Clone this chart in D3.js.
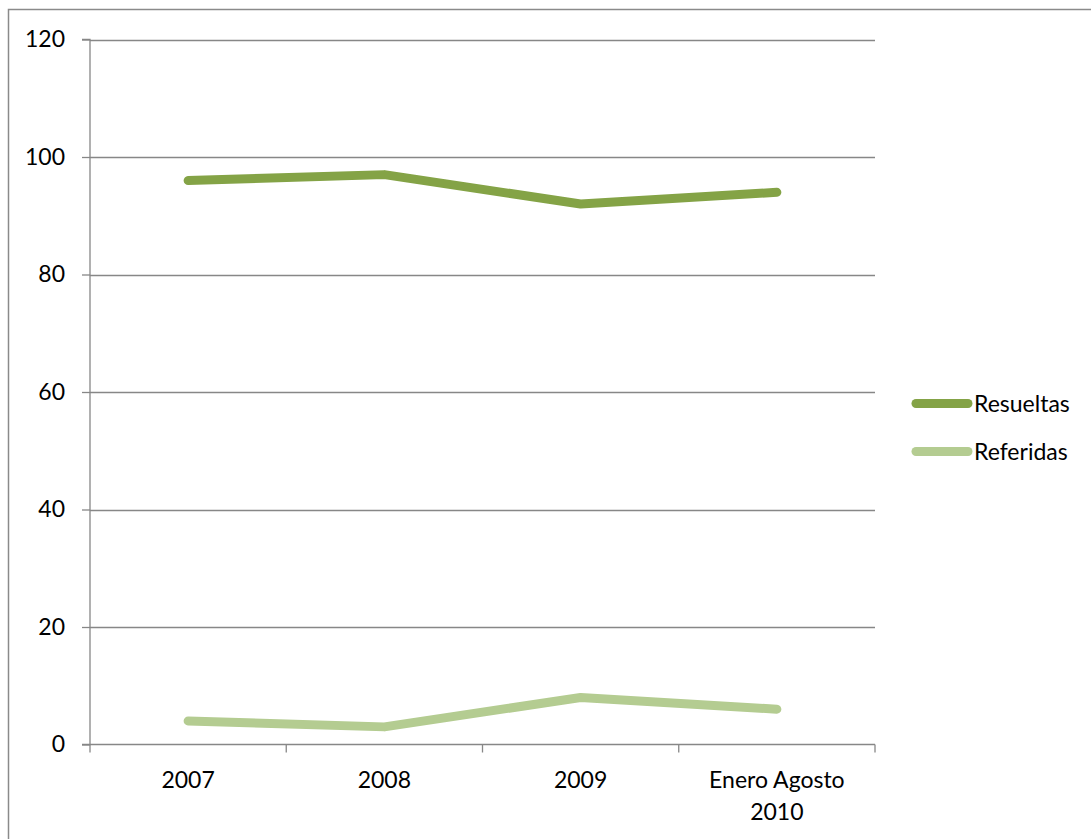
<!DOCTYPE html>
<html><head><meta charset="utf-8">
<script src="https://cdn.jsdelivr.net/npm/d3@7"></script>
<style>body{margin:0;background:#fff;} svg{display:block;}</style>
</head><body>
<svg id="c" width="1091" height="839"></svg>
<script>
const categories = [["2007"], ["2008"], ["2009"], ["Enero Agosto", "2010"]];
const seriesNames = ["Resueltas", "Referidas"];
const resueltas = [96, 97, 92, 94];
const referidas = [4, 3, 8, 6];
const yTicks = [0, 20, 40, 60, 80, 100, 120];
const colors = ["#84A346", "#B4CC91"];

const svg = d3.select("#c");
const font = "Lato, 'Open Sans', sans-serif";
const fs = 23;
const gridColor = "#878787";

// outer frame
svg.append("rect").attr("x", 8.5).attr("y", 9.5).attr("width", 1100).attr("height", 900)
  .attr("fill", "#fff").attr("stroke", "#8a8a8a").attr("stroke-width", 1.5);

const L = 90, R = 875, T = 39.5, B = 744.5;
const x = d3.scaleBand().domain(d3.range(categories.length)).range([L, R]);
const y = d3.scaleLinear().domain([0, 120]).range([B, T]);

// gridlines
svg.append("g").selectAll("line").data(yTicks.filter(d => d > 0)).join("line")
  .attr("x1", L).attr("x2", R).attr("y1", d => Math.round(y(d)) + 0.5).attr("y2", d => Math.round(y(d)) + 0.5)
  .attr("stroke", gridColor).attr("stroke-width", 1.3);

// y axis
const yAxis = d3.axisLeft(y).tickValues(yTicks).tickSize(8).tickPadding(17).tickFormat(d3.format("d"));
const gy = svg.append("g").attr("transform", `translate(${L},0)`).call(yAxis);
gy.select(".domain").attr("stroke", gridColor).attr("stroke-width", 1.3).attr("d", `M-8,${T}H0V${B}H-8`);
gy.selectAll(".tick line").attr("stroke", gridColor).attr("stroke-width", 1.3);
gy.selectAll(".tick text").attr("font-family", font).attr("font-size", fs).attr("fill", "#000");

// x axis
const xAxis = d3.axisBottom(x).tickSize(0).tickFormat(() => "");
const gx = svg.append("g").attr("transform", `translate(0,${B})`).call(xAxis);
gx.select(".domain").attr("stroke", gridColor).attr("stroke-width", 1.3).attr("d", `M${L},0H${R}`);
const bounds = d3.range(categories.length + 1).map(i => i < categories.length ? x(i) : x(i - 1) + x.bandwidth());
gx.append("g").selectAll("line").data(bounds).join("line")
  .attr("x1", d => d).attr("x2", d => d).attr("y1", 0).attr("y2", 8)
  .attr("stroke", gridColor).attr("stroke-width", 1.3);
gx.selectAll(".tick").each(function(d) {
  const t = d3.select(this).append("text").attr("font-family", font).attr("font-size", fs)
    .attr("fill", "#000").attr("text-anchor", "middle");
  categories[d].forEach((s, i) => t.append("tspan").attr("x", 0).attr("y", 43 + i * 32).text(s));
});

// lines
const line = d3.line().x((d, i) => x(i) + x.bandwidth() / 2).y(d => y(d));
[resueltas, referidas].forEach((s, k) => {
  svg.append("path").datum(s).attr("d", line).attr("fill", "none")
    .attr("stroke", colors[k]).attr("stroke-width", 9).attr("stroke-linecap", "round").attr("stroke-linejoin", "round");
});

// legend
const leg = svg.append("g");
const legY = [403.5, 451.5];
seriesNames.forEach((n, k) => {
  leg.append("line").attr("x1", 916).attr("x2", 968).attr("y1", legY[k]).attr("y2", legY[k])
    .attr("stroke", colors[k]).attr("stroke-width", 9).attr("stroke-linecap", "round");
  leg.append("text").attr("x", 974).attr("y", legY[k] + 8).attr("font-family", font).attr("font-size", fs)
    .attr("fill", "#000").text(n);
});
</script>
</body></html>
